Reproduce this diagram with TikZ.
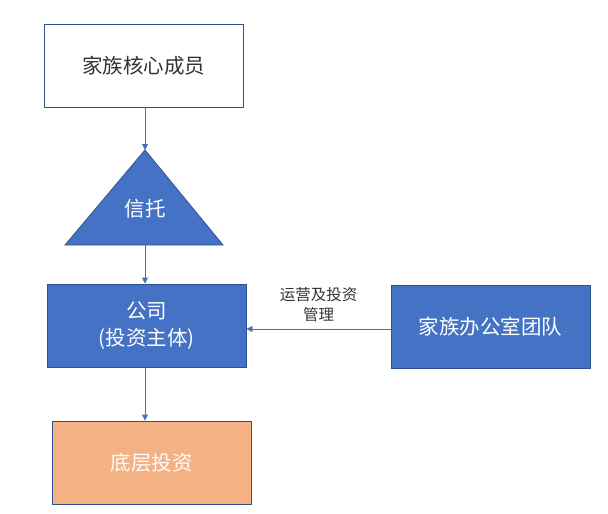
\documentclass[tikz,border=0pt]{standalone}
\usepackage{fontspec}
\setmainfont{Noto Sans CJK SC}
\usetikzlibrary{arrows.meta}

\definecolor{boxblue}{HTML}{4472C4}
\definecolor{edgeblue}{HTML}{2F528F}
\definecolor{lineblue}{HTML}{4A6FB0}
\definecolor{boxorange}{HTML}{F4B183}
\definecolor{textgray}{HTML}{333333}

\begin{document}
\begin{tikzpicture}[x=1pt, y=-1pt,
		kasten/.style = {draw=edgeblue, line width=0.8pt, minimum width=199pt, minimum height=83pt, inner sep=0pt, font=\fontsize{20.5}{27}\selectfont},
		blaukasten/.style = {kasten, fill=boxblue, text=white},
		pfeil/.style = {draw=lineblue, line width=0.8pt, -{Triangle[length=6pt,width=6pt]}},]
		
		\useasboundingbox (0,0) rectangle (608,514);
		
		\node[kasten, fill=white, text=textgray] (F) at (143.5,65.5) {家族核心成员};
		\draw[draw=edgeblue, fill=boxblue, line width=0.8pt] (65,245) -- (145,150) -- (223,245) -- cycle;
		\coordinate (TO) at (145,150);
		\coordinate (TU) at (145,245);
		\node[text=white, font=\fontsize{20.5}{27}\selectfont] (T) at (145,209) {信托};
		\node[blaukasten, align=center] (C) at (146.5,325.5) {公司\\(投资主体)};
		\node[blaukasten] (O) at (490.5,326.5) {家族办公室团队};
		\node[kasten, fill=boxorange, text=white!93!boxorange] (U) at (151.5,462.5) {底层投资};
		
		\draw[pfeil] (F.south -| TO) -- (TO);
		\draw[pfeil] (TU) -- (C.north -| TU);
		\draw[pfeil] (C.south -| TU) -- (U.north -| TU);
		\draw[pfeil] (O.west |- 0,329) -- node[above=4pt, align=center, text=textgray, font=\fontsize{15.5}{20}\selectfont] {运营及投资\\管理} (C.east |- 0,329);
		
	\end{tikzpicture}
\end{document}
